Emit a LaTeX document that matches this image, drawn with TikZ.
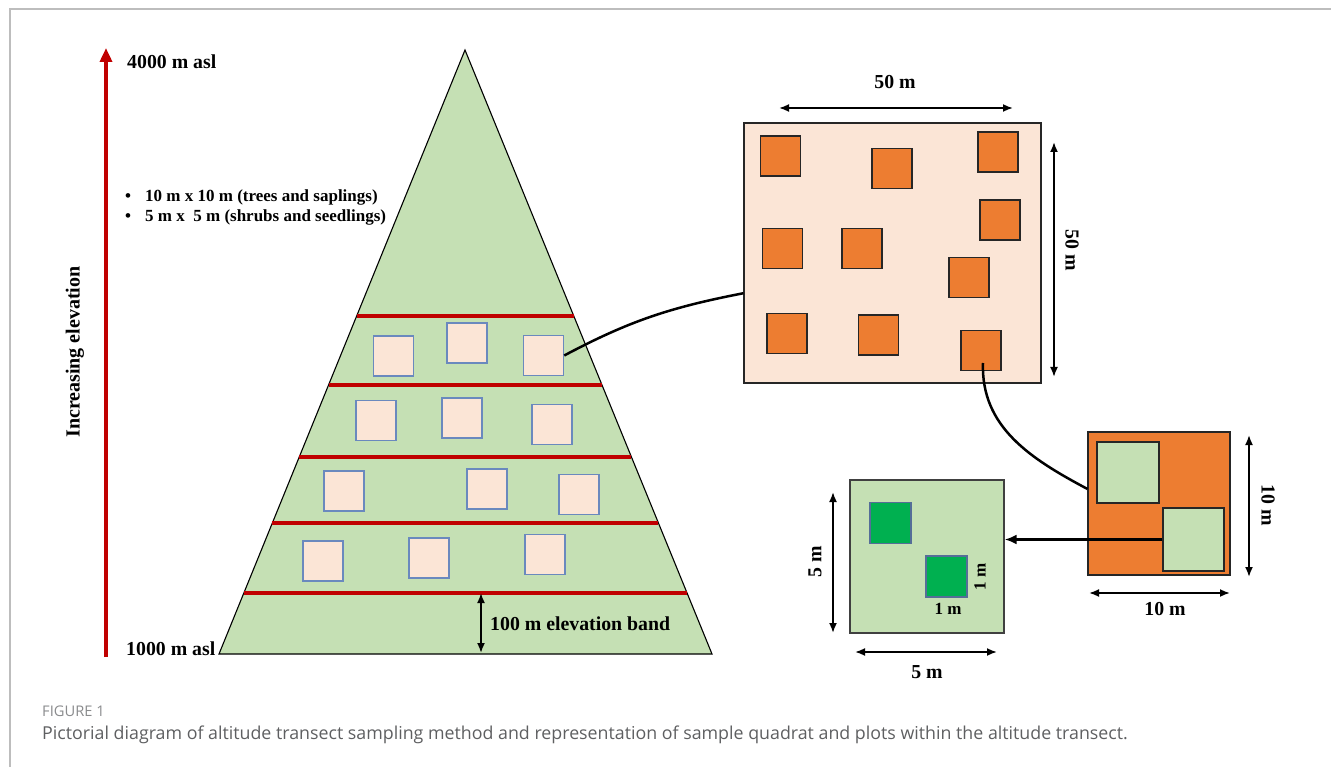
\documentclass[tikz,border=0pt]{standalone}
\usepackage{fontspec}
\setmainfont{Liberation Serif}
\newfontfamily\capfont{Open Sans}
\usetikzlibrary{arrows.meta,calc}
\definecolor{redline}{HTML}{C00000}
\definecolor{pyrgreen}{HTML}{C5E0B4}
\definecolor{pinkq}{HTML}{FBE5D6}
\definecolor{orangeq}{HTML}{ED7D31}
\definecolor{sqblue}{HTML}{6A89BE}
\definecolor{darkgreen}{HTML}{00B050}
\definecolor{framegray}{HTML}{BDBDBD}
\definecolor{capgray}{HTML}{5E5F61}
\definecolor{figgray}{HTML}{8A8B8D}
\tikzset{
  lbl/.style={font=\bfseries\fontsize{19.8}{22}\selectfont, inner sep=0},
  smlbl/.style={font=\bfseries\fontsize{17}{20}\selectfont, inner sep=0},
  bul/.style={font=\bfseries\fontsize{17}{19}\selectfont, inner sep=0, anchor=west},
  psq/.style={draw=sqblue, line width=1.5, fill=pinkq, minimum size=40, inner sep=0},
  osq/.style={draw=black!85, line width=1.5, fill=orangeq, minimum size=40, inner sep=0},
  gsq/.style={draw=black!85, line width=1.2, fill=pyrgreen, inner sep=0},
  dsq/.style={draw=sqblue!80!black, line width=1.2, fill=darkgreen, minimum size=41, inner sep=0},
  dimarrow/.style={{Latex[length=10,width=8]}-{Latex[length=10,width=8]}, line width=1.8},
  band/.style={redline, line width=4},
  conn/.style={line width=2.5},
}
\begin{document}
\begin{tikzpicture}[x=1pt,y=-1pt]
\useasboundingbox (0,0) rectangle (1331,767);
% frame
\draw[framegray, line width=1.5] (10,767) -- (10,9) -- (1331,9);

% elevation arrow
\coordinate (elevbot) at (106,657);
\coordinate (elevtop) at (106,48);
\draw[redline, line width=3.5, -{Triangle[length=14,width=12]}] (elevbot) -- (elevtop);
\node[lbl, anchor=west] (top) at (127,62) {4000 m asl};
\node[lbl, anchor=west] (bot) at (126,649) {1000 m asl};
\node[lbl, font=\bfseries\fontsize{20}{22}\selectfont, rotate=90] (incr) at (75,352) {Increasing elevation};
\node[bul] (b1) at (125,197) {\makebox[20pt][l]{\textbullet}10 m x 10 m (trees and saplings)};
\node[bul] (b2) at (125,217) {\makebox[20pt][l]{\textbullet}5 m x~ 5 m (shrubs and seedlings)};

% pyramid
\coordinate (apex) at (465,50);
\coordinate (bl) at (219,654);
\coordinate (br) at (712,654);
\draw[fill=pyrgreen, line width=1.1] (apex) -- (bl) -- (br) -- cycle;
\foreach \t [count=\i] in {0.4404,0.5546,0.6738,0.7831,0.8990}{
  \draw[band] ($(apex)!\t!(bl)$) -- ($(apex)!\t!(br)$);
}
% band squares
\node[psq] (s11) at (393.5,356) {};
\node[psq] (s12) at (467,343) {};
\node[psq] (s13) at (543.5,355.5) {};
\node[psq] (s21) at (376,420.5) {};
\node[psq] (s22) at (462,418) {};
\node[psq] (s23) at (552,424.5) {};
\node[psq] (s31) at (344,491) {};
\node[psq] (s32) at (487,489) {};
\node[psq] (s33) at (579,494.5) {};
\node[psq] (s41) at (323,561) {};
\node[psq] (s42) at (429,558) {};
\node[psq] (s43) at (545,554.5) {};
% band height arrow
\coordinate (bandtop) at (481,593);
\coordinate (bandbot) at (481,653);
\draw[dimarrow] (bandtop) -- (bandbot);
\node[lbl, anchor=west] (bandlbl) at (490,624) {100 m elevation band};

% 50 m quadrat
\node[draw=black!85, line width=1.2, fill=pinkq, minimum width=297, minimum height=260, inner sep=0] (big) at (892.5,253) {};
\node[osq] (o1) at (780.5,156) {};
\node[osq] (o2) at (892,168.5) {};
\node[osq] (o3) at (998,152) {};
\node[osq] (o4) at (1000,220) {};
\node[osq] (o5) at (782.5,248.5) {};
\node[osq] (o6) at (862,248.5) {};
\node[osq] (o7) at (969,277.5) {};
\node[osq] (o8) at (787,333.5) {};
\node[osq] (o9) at (878.5,335) {};
\node[osq] (o10) at (981,350.5) {};
\coordinate (h50a) at (779,108);
\coordinate (h50b) at (1013,108);
\draw[dimarrow] (h50a) -- (h50b);
\node[lbl] (l50a) at (895,82) {50 m};
\coordinate (v50a) at (1054,142);
\coordinate (v50b) at (1054,377);
\draw[dimarrow] (v50a) -- (v50b);
\node[lbl, rotate=-90] (l50b) at (1072,250) {50 m};

% connector pyramid -> quadrat
\coordinate (bigin) at ($(big.north west)!0.654!(big.south west)$);
\draw[conn] (s13.east) to[out=28,in=191] (bigin);

% 10 m plot
\node[draw=black!85, line width=1.2, fill=orangeq, minimum width=142, minimum height=143, inner sep=0] (p10) at (1159,503.5) {};
\node[gsq, minimum width=62, minimum height=61] (g1) at (1128,472.5) {};
\node[gsq, minimum width=61, minimum height=63] (g2) at (1193.5,539.5) {};
\coordinate (o10in) at (983,363);
\coordinate (p10in) at ($(p10.north west)!0.399!(p10.south west)$);
\draw[conn] (o10in) to[out=-92,in=152] (p10in);
\coordinate (v10a) at (1249,435);
\coordinate (v10b) at (1249,577);
\draw[dimarrow] (v10a) -- (v10b);
\node[lbl, rotate=-90] (l10a) at (1268,505) {10 m};
\coordinate (h10a) at (1089,593);
\coordinate (h10b) at (1230,593);
\draw[dimarrow] (h10a) -- (h10b);
\node[lbl] (l10b) at (1165,609) {10 m};

% 5 m plot
\node[draw=black!75, line width=1.2, fill=pyrgreen, minimum width=154, minimum height=153, inner sep=0] (p5) at (927,556.5) {};
\node[dsq] (d1) at (890.5,523) {};
\node[dsq] (d2) at (946.5,576.5) {};
\node[smlbl, rotate=90] (l1a) at (980,577) {1 m};
\node[smlbl] (l1b) at (948,609) {1 m};
\draw[line width=3, -{Latex[length=12,width=10]}] (g2.west) -- (g2.west -| p5.east);
\coordinate (v5a) at (833,492);
\coordinate (v5b) at (833,633);
\draw[dimarrow] (v5a) -- (v5b);
\node[lbl, rotate=90] (l5a) at (815,562) {5 m};
\coordinate (h5a) at (855,652);
\coordinate (h5b) at (997,652);
\draw[dimarrow] (h5a) -- (h5b);
\node[lbl] (l5b) at (927,672) {5 m};

% caption
\node[anchor=west, inner sep=0, text=figgray, font=\capfont\fontsize{14.7}{16}\selectfont] (fig) at (42,711) {FIGURE 1};
\node[anchor=west, inner sep=0, text=capgray, font=\capfont\fontsize{17.8}{20}\selectfont] (cap) at (42,735) {Pictorial diagram of altitude transect sampling method and representation of sample quadrat and plots within the altitude transect.};
\end{tikzpicture}
\end{document}
